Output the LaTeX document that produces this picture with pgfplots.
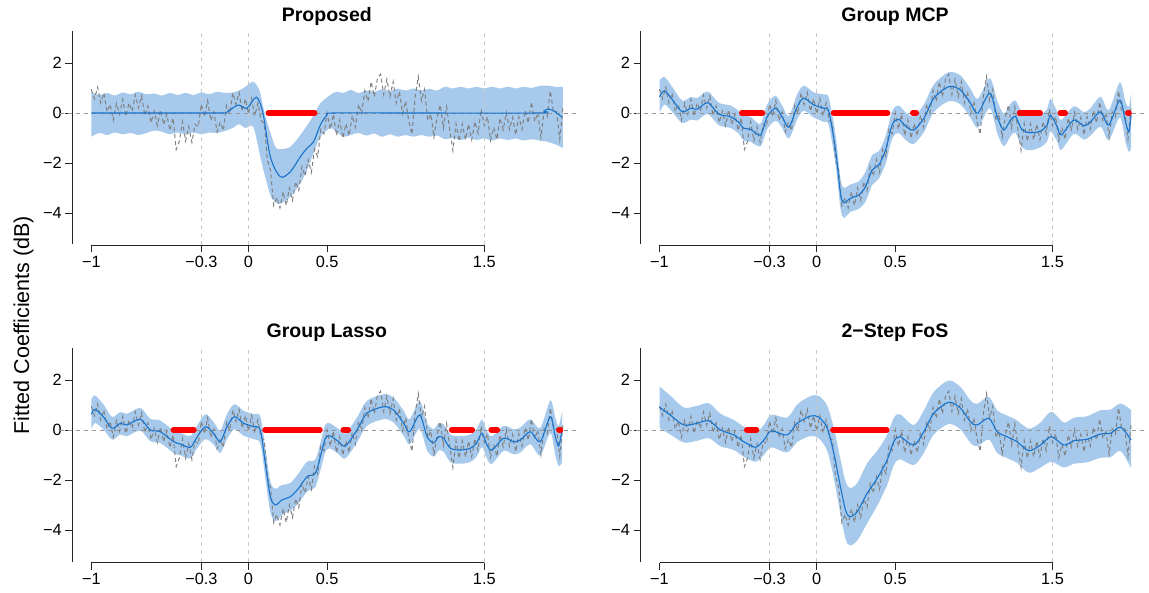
\documentclass[border=0pt]{standalone}
\usepackage{pgfplots}
\pgfplotsset{compat=1.18}
\usepackage{pgfplotstable}
\usepgfplotslibrary{fillbetween}
\usepackage{fontspec}
\setmainfont{Liberation Sans}

\definecolor{bandblue}{RGB}{166,201,236}
\definecolor{fitblue}{RGB}{24,116,205}
\definecolor{rawgray}{RGB}{128,128,128}
\definecolor{vgray}{RGB}{200,200,200}
\definecolor{hgray}{RGB}{150,150,150}

% observed (raw) series, shared by all panels
\pgfplotstableread{
x y
-1.00 0.95
-0.98 0.57
-0.96 1.03
-0.94 0.40
-0.92 0.80
-0.90 0.05
-0.88 0.35
-0.86 -0.29
-0.84 0.38
-0.82 -0.05
-0.80 0.54
-0.78 -0.13
-0.76 0.40
-0.74 0.07
-0.72 0.72
-0.70 0.20
-0.68 0.68
-0.66 -0.10
-0.64 0.28
-0.62 -0.39
-0.60 0.07
-0.58 -0.50
-0.56 0.12
-0.54 -0.47
-0.52 -0.05
-0.50 -0.70
-0.48 -0.20
-0.46 -1.46
-0.44 -1.13
-0.42 -0.35
-0.40 -1.12
-0.38 -0.55
-0.36 -1.18
-0.34 -0.45
-0.32 -0.55
-0.30 0.35
-0.28 -0.15
-0.26 0.49
-0.24 -0.30
-0.22 0.05
-0.20 -0.75
-0.18 -0.37
-0.16 -0.70
-0.14 0.30
-0.12 -0.02
-0.10 0.80
-0.08 0.34
-0.06 0.82
-0.04 0.07
-0.02 0.57
0.00 -0.03
0.02 0.58
0.04 -0.11
0.06 0.40
0.08 -0.30
0.10 -0.40
0.12 -1.88
0.14 -2.30
0.16 -3.70
0.18 -3.38
0.20 -3.80
0.22 -3.15
0.24 -3.70
0.26 -3.00
0.28 -3.50
0.30 -2.75
0.32 -3.10
0.34 -2.15
0.36 -2.52
0.38 -1.87
0.40 -2.37
0.42 -1.45
0.44 -1.75
0.46 -0.65
0.48 -0.83
0.50 0.00
0.52 -0.65
0.54 -0.05
0.56 -0.90
0.58 -0.28
0.60 -1.01
0.62 -0.43
0.64 -0.90
0.66 -0.10
0.68 -0.57
0.70 0.35
0.72 -0.02
0.74 0.90
0.76 0.47
0.78 1.25
0.80 0.65
0.82 1.37
0.84 1.55
0.86 0.74
0.88 1.35
0.90 0.65
0.92 1.25
0.94 0.40
0.96 0.85
0.98 -0.02
1.00 0.48
1.02 -0.35
1.04 -0.85
1.06 0.65
1.08 1.45
1.10 0.49
1.12 0.95
1.14 -0.30
1.16 -0.05
1.18 -0.97
1.20 -0.17
1.22 0.32
1.24 -0.60
1.26 0.25
1.28 -0.65
1.30 -1.50
1.32 -0.43
1.34 -1.13
1.36 -0.44
1.38 -1.07
1.40 -0.45
1.42 -1.07
1.44 -0.35
1.46 -0.82
1.48 0.15
1.50 -0.50
1.52 -0.15
1.54 -1.10
1.56 -0.58
1.58 -1.05
1.60 -0.20
1.62 -0.67
1.64 0.02
1.66 -0.65
1.68 -0.18
1.70 -0.87
1.72 -0.15
1.74 -0.65
1.76 0.10
1.78 -0.40
1.80 0.44
1.82 -0.35
1.84 0.00
1.86 -0.98
1.88 0.05
1.90 -0.15
1.92 0.88
1.94 0.05
1.96 0.05
1.98 -1.05
2.00 0.22
}\rawtab

% Proposed: fitted line
\pgfplotstableread{
x y
-1.000 0.00
-0.600 0.00
-0.180 0.00
-0.137 0.03
-0.100 0.20
-0.063 0.32
-0.010 0.19
0.050 0.63
0.092 0.00
0.139 -1.75
0.202 -2.55
0.266 -2.35
0.330 -1.75
0.372 -1.41
0.414 -1.15
0.457 -0.48
0.500 -0.08
0.540 0.00
1.000 0.00
1.840 0.00
1.880 0.08
1.909 0.16
1.950 0.05
1.994 -0.17
}\protab

% Proposed: band
\pgfplotstableread{
x lo hi
-1.00 -0.95 0.85
-0.95 -0.80 0.72
-0.90 -0.88 0.80
-0.85 -0.78 0.70
-0.80 -0.85 0.82
-0.75 -0.80 0.75
-0.70 -0.88 0.85
-0.65 -0.80 0.75
-0.60 -0.70 0.78
-0.55 -0.75 0.70
-0.50 -0.85 0.80
-0.45 -0.78 0.72
-0.40 -0.85 0.80
-0.35 -0.78 0.72
-0.30 -0.85 0.82
-0.25 -0.78 0.75
-0.20 -0.80 0.85
-0.15 -0.72 0.80
-0.10 -0.60 0.82
-0.06 -0.45 0.90
-0.02 -0.60 1.05
0.03 -0.55 1.25
0.07 -1.60 0.90
0.10 -2.40 0.05
0.14 -3.30 -0.80
0.17 -3.55 -1.35
0.20 -3.64 -1.45
0.266 -3.35 -1.35
0.33 -2.81 -0.88
0.372 -2.28 -0.50
0.414 -1.61 -0.10
0.457 -0.95 0.39
0.52 -0.61 0.72
0.56 -0.75 0.85
0.605 -0.95 0.80
0.65 -0.88 0.92
0.70 -0.80 0.80
0.75 -0.90 0.90
0.80 -0.82 0.85
0.85 -0.95 0.95
0.90 -0.85 0.88
0.95 -0.95 0.97
1.00 -0.88 0.90
1.05 -0.95 0.98
1.10 -0.88 0.90
1.15 -0.95 0.97
1.20 -0.90 0.90
1.25 -1.05 1.05
1.30 -1.00 0.98
1.35 -1.08 1.05
1.40 -1.00 0.98
1.45 -1.08 1.05
1.50 -1.02 0.98
1.55 -1.10 1.05
1.60 -1.02 0.98
1.65 -1.08 1.05
1.70 -1.02 0.98
1.75 -1.10 1.05
1.80 -1.05 1.00
1.85 -1.10 1.08
1.90 -1.15 1.10
1.95 -1.25 1.05
2.00 -1.40 1.05
}\proband

% Group MCP
\pgfplotstableread{
x y lo hi
-1.000 0.65 0.00 1.30
-0.968 0.89 0.34 1.44
-0.920 0.55 0.05 1.05
-0.856 0.05 -0.40 0.50
-0.800 0.19 -0.26 0.64
-0.760 0.15 -0.30 0.60
-0.693 0.41 -0.04 0.86
-0.623 -0.04 -0.49 0.41
-0.548 -0.15 -0.60 0.30
-0.500 -0.35 -0.80 0.10
-0.464 -0.61 -1.11 -0.11
-0.421 -0.65 -1.15 -0.15
-0.358 -0.88 -1.33 -0.43
-0.315 -0.15 -0.65 0.35
-0.262 0.19 -0.31 0.69
-0.220 -0.15 -0.60 0.30
-0.177 -0.57 -1.02 -0.12
-0.124 0.25 -0.25 0.75
-0.082 0.59 0.09 1.09
-0.018 0.32 -0.18 0.82
0.045 0.19 -0.36 0.74
0.077 0.05 -0.50 0.60
0.120 -1.48 -2.08 -0.88
0.151 -3.21 -3.81 -2.61
0.172 -3.59 -4.19 -2.99
0.215 -3.41 -3.96 -2.86
0.268 -3.28 -3.83 -2.73
0.310 -2.95 -3.55 -2.35
0.353 -2.28 -2.88 -1.68
0.395 -2.08 -2.63 -1.53
0.438 -1.48 -2.03 -0.93
0.480 -0.48 -1.03 0.07
0.520 -0.25 -0.80 0.30
0.570 -0.55 -1.10 0.00
0.618 -0.68 -1.23 -0.13
0.682 -0.21 -0.76 0.34
0.745 0.59 0.04 1.14
0.840 1.05 0.47 1.63
0.915 0.92 0.34 1.50
0.978 0.39 -0.19 0.97
1.025 -0.01 -0.59 0.57
1.101 0.79 0.19 1.39
1.148 -0.15 -0.80 0.50
1.190 -0.68 -1.33 -0.03
1.233 -0.28 -0.93 0.37
1.265 -0.15 -0.80 0.50
1.307 -0.68 -1.38 0.02
1.360 -0.79 -1.49 -0.09
1.424 -0.72 -1.37 -0.07
1.466 -0.48 -1.13 0.17
1.487 -0.08 -0.73 0.57
1.530 -0.55 -1.15 0.05
1.555 -0.88 -1.48 -0.28
1.636 -0.28 -0.83 0.27
1.700 -0.52 -1.07 0.03
1.742 -0.35 -0.90 0.20
1.806 0.05 -0.55 0.65
1.858 -0.48 -1.08 0.12
1.928 0.52 -0.18 1.22
1.964 -0.35 -1.15 0.45
1.986 -0.75 -1.55 0.25
2.000 -0.08 -1.40 0.80
}\mcptab

% Group Lasso
\pgfplotstableread{
x y lo hi
-1.000 0.63 0.03 1.23
-0.975 0.83 0.28 1.38
-0.920 0.50 0.00 1.00
-0.868 0.07 -0.38 0.52
-0.815 0.27 -0.18 0.72
-0.773 0.20 -0.25 0.65
-0.688 0.43 -0.02 0.88
-0.625 0.00 -0.45 0.45
-0.561 -0.07 -0.52 0.38
-0.476 -0.47 -0.92 -0.02
-0.434 -0.56 -1.01 -0.11
-0.370 -0.69 -1.14 -0.24
-0.332 -0.33 -0.78 0.12
-0.275 0.13 -0.37 0.63
-0.222 -0.13 -0.58 0.32
-0.180 -0.47 -0.92 -0.02
-0.137 0.13 -0.37 0.63
-0.090 0.53 0.03 1.03
-0.031 0.27 -0.23 0.77
0.033 0.13 -0.37 0.63
0.075 0.00 -0.55 0.55
0.107 -1.33 -1.93 -0.73
0.139 -2.67 -3.27 -2.07
0.170 -3.00 -3.65 -2.35
0.213 -2.80 -3.40 -2.20
0.266 -2.67 -3.22 -2.12
0.319 -2.33 -2.93 -1.73
0.372 -1.87 -2.47 -1.27
0.425 -1.73 -2.28 -1.18
0.457 -1.07 -1.62 -0.52
0.489 -0.33 -0.88 0.22
0.520 -0.24 -0.74 0.26
0.570 -0.45 -0.95 0.05
0.616 -0.64 -1.14 -0.14
0.690 0.00 -0.50 0.50
0.754 0.67 0.17 1.17
0.860 0.93 0.43 1.43
0.923 0.80 0.30 1.30
0.987 0.27 -0.23 0.77
1.025 -0.07 -0.57 0.43
1.089 0.60 0.05 1.15
1.136 -0.27 -0.82 0.28
1.178 -0.51 -1.06 0.04
1.210 -0.27 -0.82 0.28
1.242 -0.33 -0.88 0.22
1.284 -0.73 -1.28 -0.18
1.348 -0.80 -1.35 -0.25
1.410 -0.73 -1.28 -0.18
1.450 -0.53 -1.08 0.02
1.485 -0.13 -0.68 0.42
1.517 -0.60 -1.15 -0.05
1.549 -0.80 -1.35 -0.25
1.623 -0.33 -0.83 0.17
1.686 -0.47 -0.97 0.03
1.729 -0.40 -0.90 0.10
1.793 -0.07 -0.57 0.43
1.856 -0.47 -1.02 0.08
1.920 0.53 -0.12 1.18
1.952 -0.27 -1.02 0.48
1.973 -0.64 -1.44 0.16
1.995 0.00 -1.30 0.75
}\lassotab

% 2-Step FoS
\pgfplotstableread{
x y lo hi
-1.000 0.91 0.08 1.74
-0.932 0.60 -0.18 1.38
-0.845 0.20 -0.50 0.90
-0.760 0.27 -0.43 0.97
-0.686 0.37 -0.33 1.07
-0.612 0.00 -0.65 0.65
-0.527 -0.20 -0.80 0.40
-0.464 -0.47 -1.07 0.13
-0.389 -0.69 -1.27 -0.11
-0.336 -0.40 -1.00 0.20
-0.289 -0.04 -0.69 0.61
-0.188 -0.20 -0.90 0.50
-0.124 0.27 -0.48 1.02
-0.039 0.56 -0.24 1.36
0.014 0.51 -0.34 1.36
0.067 0.07 -0.83 0.97
0.109 -0.93 -1.93 0.07
0.151 -2.27 -3.37 -1.17
0.183 -3.20 -4.35 -2.05
0.211 -3.47 -4.62 -2.32
0.258 -3.27 -4.42 -2.12
0.321 -2.53 -3.73 -1.33
0.385 -1.93 -3.03 -0.83
0.448 -1.20 -2.20 -0.20
0.490 -0.47 -1.42 0.48
0.529 -0.27 -1.17 0.63
0.618 -0.60 -1.40 0.20
0.681 -0.07 -0.92 0.78
0.745 0.67 -0.18 1.52
0.840 1.11 0.24 1.98
0.915 0.87 0.02 1.72
0.978 0.33 -0.52 1.18
1.021 0.20 -0.65 1.05
1.095 0.47 -0.38 1.32
1.148 -0.07 -0.92 0.78
1.211 -0.27 -1.12 0.58
1.275 -0.47 -1.32 0.38
1.349 -0.83 -1.71 0.05
1.424 -0.60 -1.50 0.30
1.492 -0.27 -1.27 0.73
1.572 -0.60 -1.50 0.30
1.636 -0.43 -1.35 0.49
1.720 -0.37 -1.29 0.55
1.806 -0.16 -1.11 0.79
1.870 -0.13 -1.08 0.82
1.933 0.11 -0.84 1.06
2.000 -0.40 -1.53 0.80
}\fostab

\pgfplotsset{
  panel/.style={
    scale only axis, width=505pt, height=214pt,
    xmin=-1.1209, xmax=2.0916, ymin=-5.3, ymax=3.26,
    axis x line*=bottom, axis y line*=left,
    axis line style={draw=none},
    xtick={-1,-0.3,0,0.5,1.5}, xticklabels={−1,−0.3,0,0.5,1.5},
    ytick={-4,-2,0,2}, yticklabels={−4,−2,0,2},
    tick align=outside, major tick length=7pt,
    tick style={black!85, line width=0.9pt},
    ticklabel style={font=\fontsize{16.3}{18}\selectfont, text=black},
    clip=false, anchor=south west,
  },
  bandp/.style={draw=none, smooth, forget plot},
  fitp/.style={fitblue, line width=1.1pt, smooth},
  rawp/.style={rawgray, line width=1pt, dash pattern=on 4pt off 3pt},
  sigp/.style={red, line width=5.5pt, line cap=round},
}

\newcommand{\decor}[1]{%
  \addplot[vgray, line width=0.8pt, dash pattern=on 4pt off 4pt] coordinates {(-0.3,-5.3) (-0.3,3.26)};
  \addplot[vgray, line width=0.8pt, dash pattern=on 4pt off 4pt] coordinates {(0,-5.3) (0,3.26)};
  \addplot[vgray, line width=0.8pt, dash pattern=on 4pt off 4pt] coordinates {(1.5,-5.3) (1.5,3.26)};
  \addplot[hgray, line width=0.8pt, dash pattern=on 4pt off 4pt] coordinates {(#1,0) (2.0916,0)};
  \draw[black!85, line width=0.9pt] (axis cs:-1,-5.3) -- (axis cs:1.5,-5.3);
  \draw[black!85, line width=0.9pt] (axis cs:-1.1209,-5.26) -- (axis cs:-1.1209,3.26);
}

\begin{document}
\begin{tikzpicture}

% ---------- Proposed ----------
\begin{axis}[panel, at={(72.3pt,346.5pt)}]
  \addplot[bandp, name path=pu] table[x=x,y=hi] {\proband};
  \addplot[bandp, name path=pl] table[x=x,y=lo] {\proband};
  \addplot[bandblue] fill between[of=pu and pl];
  \decor{-1.2}
  \addplot[rawp] table[x=x,y=y] {\rawtab};
  \addplot[fitp] table[x=x,y=y] {\protab};
  \addplot[sigp] coordinates {(0.126,0) (0.421,0)};
\end{axis}

% ---------- Group MCP ----------
\begin{axis}[panel, at={(640.5pt,346.5pt)}]
  \addplot[bandp, name path=mu] table[x=x,y=hi] {\mcptab};
  \addplot[bandp, name path=ml] table[x=x,y=lo] {\mcptab};
  \addplot[bandblue] fill between[of=mu and ml];
  \decor{-1.2}
  \addplot[rawp] table[x=x,y=y] {\rawtab};
  \addplot[fitp] table[x=x,y=y] {\mcptab};
  \addplot[sigp] coordinates {(-0.477,0) (-0.345,0)};
  \addplot[sigp] coordinates {(0.107,0) (0.451,0)};
  \addplot[sigp] coordinates {(0.611,0) (0.633,0)};
  \addplot[sigp] coordinates {(1.290,0) (1.422,0)};
  \addplot[sigp] coordinates {(1.549,0) (1.581,0)};
  \addplot[sigp] coordinates {(1.979,0) (1.987,0)};
\end{axis}

% ---------- Group Lasso ----------
\begin{axis}[panel, at={(72.3pt,29.5pt)}]
  \addplot[bandp, name path=lu] table[x=x,y=hi] {\lassotab};
  \addplot[bandp, name path=ll] table[x=x,y=lo] {\lassotab};
  \addplot[bandblue] fill between[of=lu and ll];
  \decor{-1.2}
  \addplot[rawp] table[x=x,y=y] {\rawtab};
  \addplot[fitp] table[x=x,y=y] {\lassotab};
  \addplot[sigp] coordinates {(-0.478,0) (-0.347,0)};
  \addplot[sigp] coordinates {(0.105,0) (0.455,0)};
  \addplot[sigp] coordinates {(0.603,0) (0.635,0)};
  \addplot[sigp] coordinates {(1.292,0) (1.424,0)};
  \addplot[sigp] coordinates {(1.543,0) (1.583,0)};
  \addplot[sigp] coordinates {(1.975,0) (1.985,0)};
\end{axis}

% ---------- 2-Step FoS ----------
\begin{axis}[panel, at={(640.5pt,29.5pt)}]
  \addplot[bandp, name path=fu] table[x=x,y=hi] {\fostab};
  \addplot[bandp, name path=fl] table[x=x,y=lo] {\fostab};
  \addplot[bandblue] fill between[of=fu and fl];
  \decor{-1.2}
  \addplot[rawp] table[x=x,y=y] {\rawtab};
  \addplot[fitp] table[x=x,y=y] {\fostab};
  \addplot[sigp] coordinates {(-0.445,0) (-0.383,0)};
  \addplot[sigp] coordinates {(0.103,0) (0.446,0)};
\end{axis}

% titles and common y label
\node[anchor=base, font=\bfseries\fontsize{19.5}{22}\selectfont] at (326.8pt,570.5pt) {Proposed};
\node[anchor=base, font=\bfseries\fontsize{19.5}{22}\selectfont] at (895pt,570.5pt) {Group MCP};
\node[anchor=base, font=\bfseries\fontsize{19.5}{22}\selectfont] at (326.8pt,254.5pt) {Group Lasso};
\node[anchor=base, font=\bfseries\fontsize{19.5}{22}\selectfont] at (895pt,254.5pt) {2−Step FoS};
\node[rotate=90, anchor=base, font=\fontsize{21.5}{24}\selectfont] at (29pt,267pt) {Fitted Coefficients (dB)};

\pgfresetboundingbox
\path[use as bounding box] (0pt,0pt) rectangle (1149pt,592pt);
\end{tikzpicture}
\end{document}
